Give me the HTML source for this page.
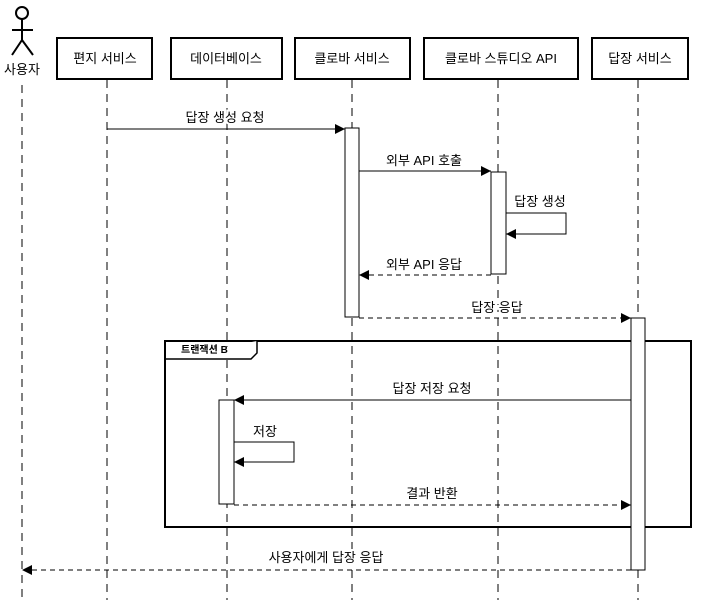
<!DOCTYPE html>
<html><head><meta charset="utf-8"><style>
html,body{margin:0;padding:0;background:#fff}
svg text{font-family:"Liberation Sans","Noto Sans CJK KR",sans-serif;font-size:13px;fill:#000}
.l{stroke:#fff;stroke-width:4px;paint-order:stroke}
</style></head><body>
<svg width="711" height="600" viewBox="0 0 711 600" xmlns="http://www.w3.org/2000/svg">
<defs>
<marker id="a" markerWidth="10" markerHeight="10" refX="10" refY="5" orient="auto" markerUnits="userSpaceOnUse"><path d="M0,0 L10,5 L0,10 z" fill="#000"/></marker>
</defs>
<g stroke="#000" stroke-width="1" stroke-dasharray="8,6" fill="none">
<line x1="22" y1="85" x2="22" y2="600"/>
<line x1="107" y1="80" x2="107" y2="600"/>
<line x1="227" y1="80" x2="227" y2="600"/>
<line x1="352" y1="80" x2="352" y2="600"/>
<line x1="498" y1="80" x2="498" y2="600"/>
<line x1="638" y1="80" x2="638" y2="600"/>
</g>
<g stroke="#000" stroke-width="2" fill="none">
<circle cx="22" cy="13" r="6"/>
<line x1="22" y1="19" x2="22" y2="40"/>
<line x1="12" y1="30" x2="33" y2="30"/>
<line x1="22" y1="40" x2="12" y2="55"/>
<line x1="22" y1="40" x2="33" y2="55"/>
</g>
<text x="22" y="74" text-anchor="middle">사용자</text>
<g stroke="#000" stroke-width="2" fill="#fff">
<rect x="57" y="38" width="95" height="41"/>
<rect x="171" y="38" width="111" height="41"/>
<rect x="295" y="38" width="115" height="41"/>
<rect x="424" y="38" width="154" height="41"/>
<rect x="592" y="38" width="96" height="41"/>
</g>
<text x="105" y="63" text-anchor="middle">편지 서비스</text>
<text x="226" y="63" text-anchor="middle">데이터베이스</text>
<text x="352" y="63" text-anchor="middle">클로바 서비스</text>
<text x="501" y="63" text-anchor="middle">클로바 스튜디오 API</text>
<text x="640" y="63" text-anchor="middle">답장 서비스</text>
<rect x="165" y="341" width="526" height="186" fill="none" stroke="#000" stroke-width="2"/>
<path d="M165,359 L251,359 L257,353 L257,341" fill="#fff" stroke="#000" stroke-width="1.5"/>
<text x="181" y="353" style="font-size:10px;font-weight:bold">트랜잭션 B</text>
<g stroke="#000" stroke-width="1" fill="#fff">
<rect x="345" y="128" width="14" height="189"/>
<rect x="491" y="172" width="15" height="102"/>
<rect x="631" y="318" width="14" height="252"/>
<rect x="219" y="400" width="15" height="104"/>
</g>
<g stroke="#000" stroke-width="1" fill="none">
<line x1="107" y1="129" x2="345" y2="129" marker-end="url(#a)"/>
<line x1="359" y1="171" x2="491" y2="171" marker-end="url(#a)"/>
<polyline points="506,213 566,213 566,234 506,234" marker-end="url(#a)"/>
<line x1="491" y1="275" x2="359" y2="275" stroke-dasharray="5,4" marker-end="url(#a)"/>
<line x1="359" y1="318" x2="631" y2="318" stroke-dasharray="5,4" marker-end="url(#a)"/>
<line x1="631" y1="400" x2="234" y2="400" marker-end="url(#a)"/>
<polyline points="234,442 294,442 294,462 234,462" marker-end="url(#a)"/>
<line x1="234" y1="505" x2="631" y2="505" stroke-dasharray="5,4" marker-end="url(#a)"/>
<line x1="631" y1="570" x2="22" y2="570" stroke-dasharray="5,4" marker-end="url(#a)"/>
</g>
<text class="l" x="225" y="122" text-anchor="middle">답장 생성 요청</text>
<text class="l" x="424" y="165" text-anchor="middle">외부 API 호출</text>
<text class="l" x="540" y="206" text-anchor="middle">답장 생성</text>
<text class="l" x="424" y="269" text-anchor="middle">외부 API 응답</text>
<text class="l" x="497" y="312" text-anchor="middle">답장 응답</text>
<text class="l" x="432" y="393" text-anchor="middle">답장 저장 요청</text>
<text class="l" x="265" y="436" text-anchor="middle">저장</text>
<text class="l" x="432" y="498" text-anchor="middle">결과 반환</text>
<text class="l" x="326" y="562" text-anchor="middle">사용자에게 답장 응답</text>
</svg>
</body></html>
